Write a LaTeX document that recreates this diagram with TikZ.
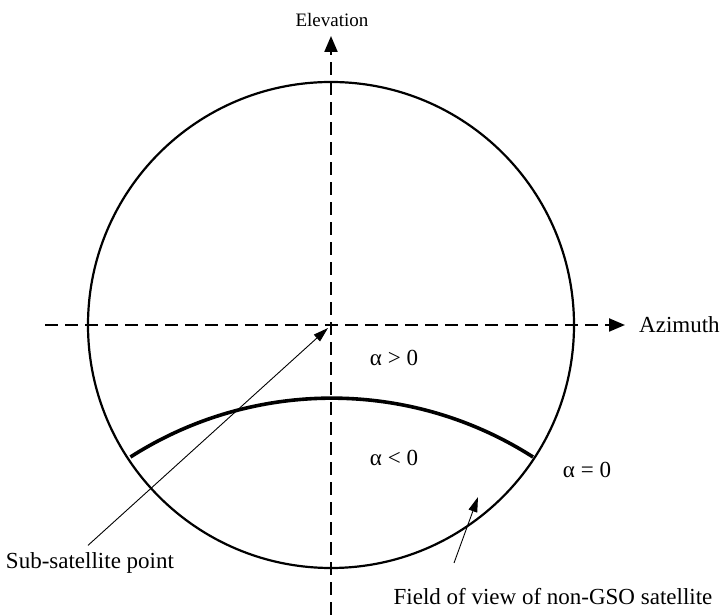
\documentclass[tikz,border=0pt]{standalone}
\usepackage{fontspec}
\setmainfont{Liberation Serif}
\usetikzlibrary{arrows.meta}

\begin{document}
\begin{tikzpicture}[x=1pt,y=1pt,
        axis/.style={line width=2.2pt, dash pattern=on 13pt off 7pt,
                     -{Triangle[length=16pt,width=13pt]}},
        pointer/.style={line width=0.9pt, -{Triangle[length=15pt,width=9pt]}},
        lbl/.style={font=\fontsize{23}{27}\selectfont, inner sep=0pt},
        small/.style={font=\fontsize{19}{22}\selectfont, inner sep=0pt}]
      \useasboundingbox (0,0) rectangle (723,615);
      \coordinate (origin) at (331,290);
      \draw[line width=2.2pt] (origin) circle (243);
      \draw[line width=3.6pt] (533,158) arc[start angle=57.4, end angle=122.6, radius=373.6];
      \draw[axis] (331,0) -- (331,579);
      \draw[axis] (45,290) -- (625,290);
      \node[small] (elev) at (332,595) {Elevation};
      \node[lbl, anchor=west] (azim) at (639,290) {Azimuth};
      \node[lbl] (pos) at (394,257) {α > 0};
      \node[lbl] (neg) at (394,157) {α < 0};
      \node[lbl] (zero) at (587,145) {α = 0};
      \node[lbl] (subpt) at (90,52) {Sub-satellite point};
      \node[lbl] (fov) at (553,18) {Field of view of non-GSO satellite};
      \coordinate (subtip) at (328,287);
      \coordinate (fovtail) at (454,52);
      \coordinate (fovtip) at (478,118);
      \draw[pointer] (subpt.north) ++(-2,7) -- (subtip);
      \draw[pointer] (fovtail) -- (fovtip);
    \end{tikzpicture}
\end{document}
